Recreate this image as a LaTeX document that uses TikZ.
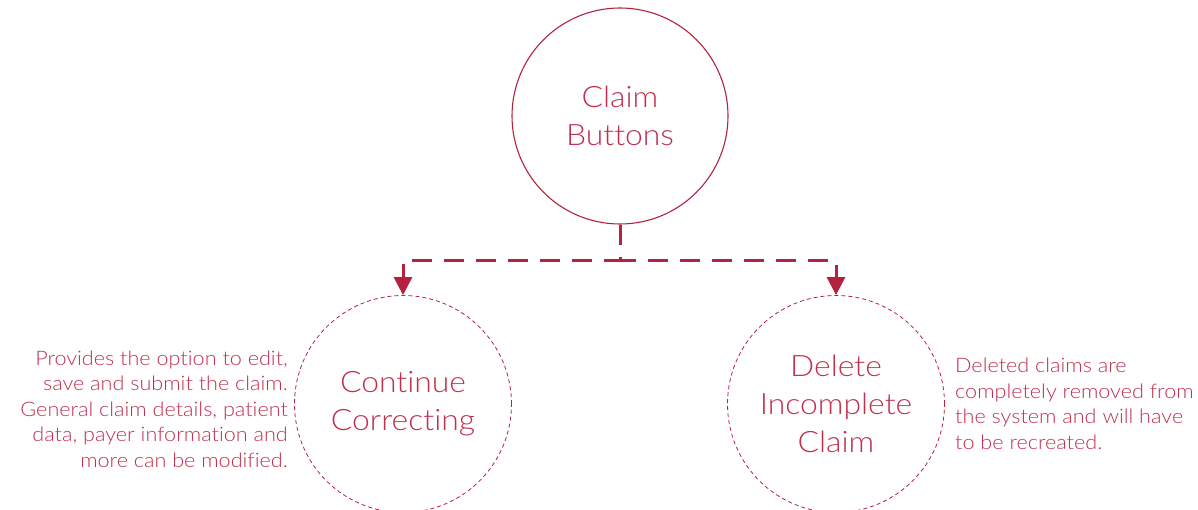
\documentclass[tikz,border=0pt]{standalone}
\usepackage{fontspec}
\setmainfont{Lato Light}[Ligatures=CommonOff,FakeStretch=1.08]
\usetikzlibrary{arrows.meta}
\definecolor{crim}{HTML}{B5223F}
\definecolor{crimtext}{HTML}{C02F4B}
\begin{document}
\begin{tikzpicture}[x=1pt,y=-1pt,
  bigcirc/.style={circle,draw=crim,line width=1.1pt,minimum size=216pt,inner sep=0pt,
    text=crimtext,align=center,font=\fontsize{29.5}{38}\selectfont},
  dcirc/.style={circle,draw=crim,line width=0.8pt,dash pattern=on 4pt off 3pt,minimum size=217pt,inner sep=0pt,
    text=crimtext,align=center,font=\fontsize{29.5}{38}\selectfont},
  conn/.style={draw=crim,line width=3pt,dash pattern=on 20pt off 12pt,
    -{Triangle[width=18pt,length=18pt]}},
  note/.style={text=crimtext,font=\fontsize{20}{25.5}\selectfont,inner sep=0pt}]
\useasboundingbox (0,0) rectangle (1198,510);
\node[bigcirc] (top) at (620,116) {Claim\\Buttons};
\node[dcirc] (cc) at (403,404) {Continue\\Correcting};
\node[dcirc] (dic) at (836,404) {Delete\\Incomplete\\Claim};
\coordinate (mid) at (620,261);
\draw[conn] (top.south) -- (mid) -| (cc.north);
\draw[conn] (top.south) -- (mid) -| (dic.north);
\node[note,anchor=east,align=right] (lt) at (288,409) {Provides the option to edit,\\save and submit the claim.\\General claim details, patient\\data, payer information and\\more can be modified.};
\node[note,anchor=west,align=left] (rt) at (955,404) {Deleted claims are\\completely removed from\\the system and will have\\to be recreated.};
\end{tikzpicture}
\end{document}
